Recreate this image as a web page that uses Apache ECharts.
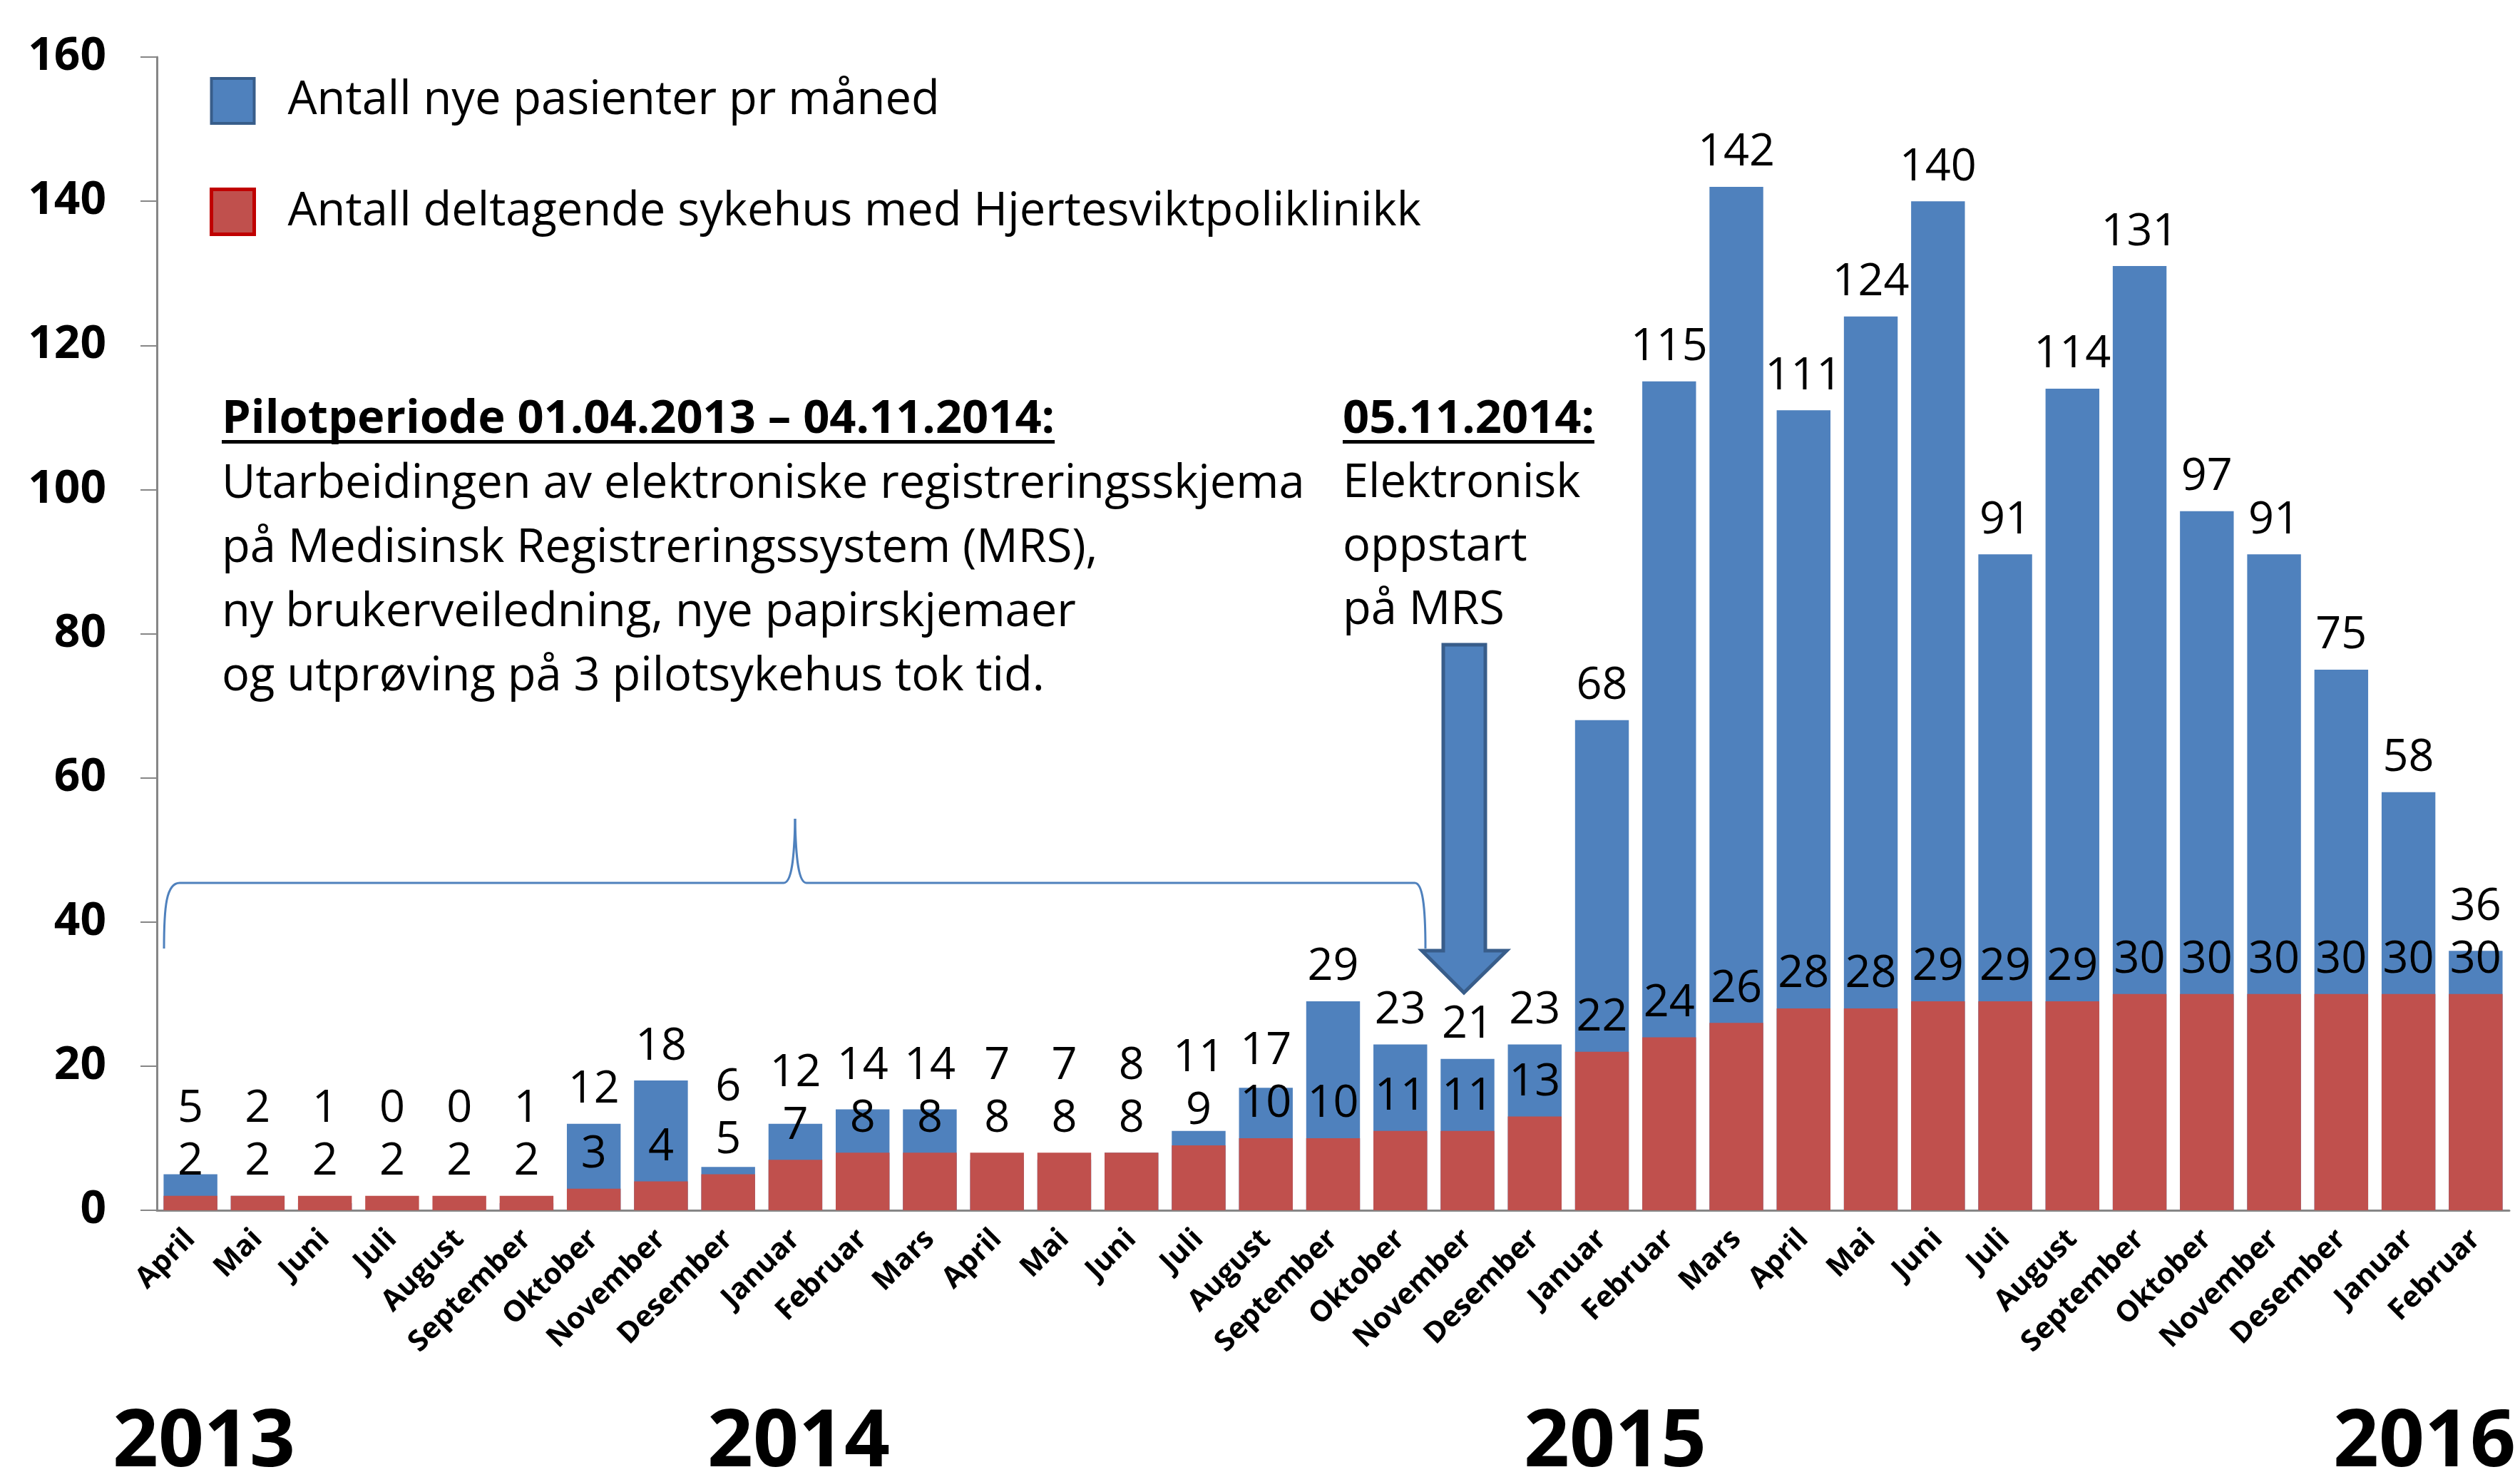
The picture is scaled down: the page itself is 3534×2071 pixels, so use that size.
<!DOCTYPE html>
<html>
<head>
<meta charset="utf-8">
<script src="https://cdn.jsdelivr.net/npm/echarts@6/dist/echarts.min.js"></script>
<style>
  html, body { margin: 0; padding: 0; background: #fff; }
  #chart { width: 3534px; height: 2071px; }
</style>
</head>
<body>
<div id="chart"></div>
<script>
// months Apr 2013 - Feb 2016, year kept in the key so repeated names stay distinct
const categories = [
  'April 2013', 'Mai 2013', 'Juni 2013', 'Juli 2013', 'August 2013', 'September 2013',
  'Oktober 2013', 'November 2013', 'Desember 2013',
  'Januar 2014', 'Februar 2014', 'Mars 2014', 'April 2014', 'Mai 2014', 'Juni 2014',
  'Juli 2014', 'August 2014', 'September 2014', 'Oktober 2014', 'November 2014', 'Desember 2014',
  'Januar 2015', 'Februar 2015', 'Mars 2015', 'April 2015', 'Mai 2015', 'Juni 2015',
  'Juli 2015', 'August 2015', 'September 2015', 'Oktober 2015', 'November 2015', 'Desember 2015',
  'Januar 2016', 'Februar 2016'
]
const newPatients = [5, 2, 1, 0, 0, 1, 12, 18, 6,
  12, 14, 14, 7, 7, 8, 11, 17, 29, 23, 21, 23,
  68, 115, 142, 111, 124, 140, 91, 114, 131, 97, 91, 75,
  58, 36]
const hospitals = [2, 2, 2, 2, 2, 2, 3, 4, 5,
  7, 8, 8, 8, 8, 8, 9, 10, 10, 11, 11, 13,
  22, 24, 26, 28, 28, 29, 29, 29, 30, 30, 30, 30,
  30, 30]
const years = ['2013', '2014', '2015', '2016']

const blueName = 'Antall nye pasienter pr måned'
const redName = 'Antall deltagende sykehus med Hjertesviktpoliklinikk'
const FONT = '"Open Sans"'

const pilotTitle = 'Pilotperiode 01.04.2013 – 04.11.2014:'
const pilotText = [
  'Utarbeidingen av elektroniske registreringsskjema',
  'på Medisinsk Registreringssystem (MRS),',
  'ny brukerveiledning, nye papirskjemaer',
  'og utprøving på 3 pilotsykehus tok tid.'
]
const startTitle = '05.11.2014:'
const startText = ['Elektronisk', 'oppstart', 'på MRS']

function textWidth(str, font) {
  const ctx = document.createElement('canvas').getContext('2d')
  ctx.font = font
  return ctx.measureText(str).width
}

const chart = echarts.init(document.getElementById('chart'))

const labelStyle = {
  show: true,
  position: 'top',
  distance: 16,
  fontSize: 63,
  fontFamily: FONT,
  color: '#000'
}

const titleFont = 'bold 65px ' + FONT
const bodyFont = '65px ' + FONT
const yearStyle = { font: 'bold 112px ' + FONT, fill: '#000', align: 'center', verticalAlign: 'middle' }
const braceStyle = { fill: null, stroke: '#4F81BD', lineWidth: 3 }

chart.setOption({
  animation: false,
  backgroundColor: '#fff',
  grid: { left: 220, right: 15, top: 80, bottom: 374 },
  legend: {
    orient: 'vertical',
    left: 289,
    top: 103,
    itemWidth: 60,
    itemHeight: 63,
    itemGap: 88,
    icon: 'rect',
    textStyle: { fontSize: 65, fontFamily: FONT, color: '#000', padding: [28, 0, 0, 42] },
    data: [
      { name: blueName, itemStyle: { borderColor: '#385D8A', borderWidth: 4 } },
      { name: redName, itemStyle: { borderColor: '#C00000', borderWidth: 5 } }
    ]
  },
  xAxis: {
    type: 'category',
    data: categories,
    axisLine: { lineStyle: { color: '#868686', width: 3 } },
    axisTick: { length: 15, lineStyle: { color: '#868686', width: 2 } },
    axisLabel: {
      interval: 0,
      rotate: 45,
      margin: 34,
      fontSize: 41,
      fontWeight: 'bold',
      fontFamily: FONT,
      color: '#000',
      formatter: v => v.split(' ')[0]
    }
  },
  yAxis: {
    type: 'value',
    min: 0,
    max: 160,
    interval: 20,
    splitLine: { show: false },
    axisLine: { show: true, lineStyle: { color: '#868686', width: 3 } },
    axisTick: { show: true, length: 23, lineStyle: { color: '#868686', width: 2 } },
    axisLabel: { margin: 71, fontSize: 64, fontWeight: 'bold', fontFamily: FONT, color: '#000' }
  },
  series: [
    {
      name: blueName,
      type: 'bar',
      data: newPatients,
      barWidth: '80%',
      barGap: '-100%',
      itemStyle: { color: '#4F81BD' },
      label: labelStyle
    },
    {
      name: redName,
      type: 'bar',
      data: hospitals,
      barWidth: '80%',
      barGap: '-100%',
      itemStyle: { color: '#C0504D' },
      label: labelStyle
    }
  ],
  graphic: [
    // pilot period text
    { type: 'text', style: { text: pilotTitle, x: 311, y: 588, font: titleFont, fill: '#000', verticalAlign: 'middle' } },
    { type: 'rect', shape: { x: 311, y: 617, width: textWidth(pilotTitle, titleFont), height: 5 }, style: { fill: '#000' } },
    { type: 'text', style: { text: pilotText.join('\n'), x: 311, y: 634, font: bodyFont, lineHeight: 90, fill: '#000' } },
    // start text
    { type: 'text', style: { text: startTitle, x: 1883, y: 588, font: titleFont, fill: '#000', verticalAlign: 'middle' } },
    { type: 'rect', shape: { x: 1883, y: 617, width: textWidth(startTitle, titleFont), height: 5 }, style: { fill: '#000' } },
    { type: 'text', style: { text: startText.join('\n'), x: 1883, y: 634, font: bodyFont, lineHeight: 89, fill: '#000' } },
    // brace over the pilot period
    { type: 'bezierCurve', shape: { x1: 230, y1: 1330, cpx1: 230, cpy1: 1272, cpx2: 233, cpy2: 1238, x2: 252, y2: 1238 }, style: braceStyle },
    { type: 'line', shape: { x1: 252, y1: 1238, x2: 1099, y2: 1238 }, style: braceStyle },
    { type: 'bezierCurve', shape: { x1: 1099, y1: 1238, cpx1: 1110, cpy1: 1238, cpx2: 1114, cpy2: 1205, x2: 1115, y2: 1148 }, style: braceStyle },
    { type: 'bezierCurve', shape: { x1: 1115, y1: 1148, cpx1: 1116, cpy1: 1205, cpx2: 1120, cpy2: 1238, x2: 1131, y2: 1238 }, style: braceStyle },
    { type: 'line', shape: { x1: 1131, y1: 1238, x2: 1984, y2: 1238 }, style: braceStyle },
    { type: 'bezierCurve', shape: { x1: 1984, y1: 1238, cpx1: 1995, cpy1: 1238, cpx2: 1999, cpy2: 1270, x2: 1999, y2: 1330 }, style: braceStyle },
    // arrow
    {
      type: 'polygon',
      shape: { points: [[2024, 904], [2083, 904], [2083, 1333], [2113, 1333], [2053, 1392], [1994, 1333], [2024, 1333]] },
      style: { fill: '#4F81BD', stroke: '#385D8A', lineWidth: 5 }
    },
    // years
    { type: 'text', style: Object.assign({ text: years[0], x: 286, y: 2024 }, yearStyle) },
    { type: 'text', style: Object.assign({ text: years[1], x: 1120, y: 2024 }, yearStyle) },
    { type: 'text', style: Object.assign({ text: years[2], x: 2265, y: 2024 }, yearStyle) },
    { type: 'text', style: Object.assign({ text: years[3], x: 3400, y: 2024 }, yearStyle) }
  ]
})

// lift blue labels that would collide with the red label below them
const k = chart.convertToPixel({ yAxisIndex: 0 }, 0) - chart.convertToPixel({ yAxisIndex: 0 }, 1)
const blueData = newPatients.map((v, i) => {
  const dy = (v - hospitals[i]) * k - 74
  return dy < 0 ? { value: v, label: { offset: [0, dy] } } : v
})
chart.setOption({ series: [{ data: blueData }] })
</script>
</body>
</html>
